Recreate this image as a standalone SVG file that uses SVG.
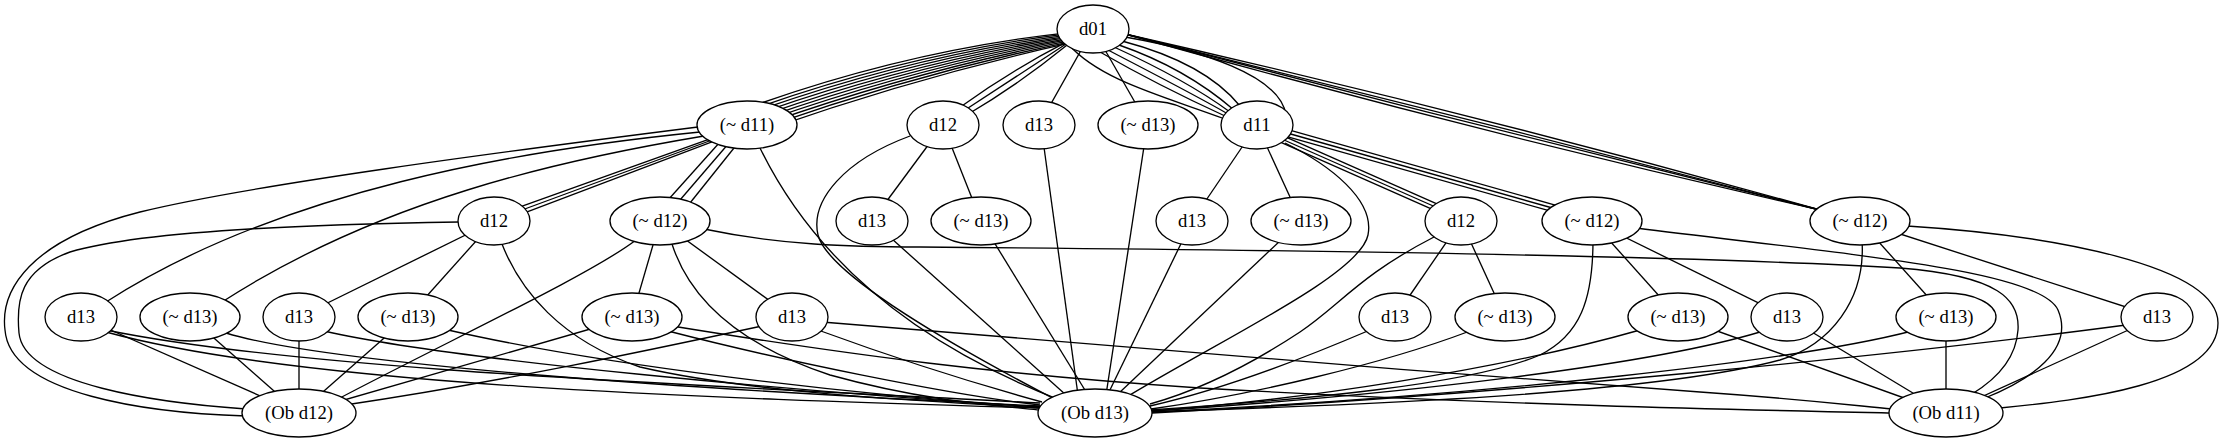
<svg xmlns="http://www.w3.org/2000/svg" width="2224" height="443" viewBox="0 0 2224 443">
<style>
.e path{fill:none;stroke:#000;stroke-width:1.33}
.n ellipse{fill:#fff;stroke:#000;stroke-width:1.33}
.n text{font-family:"Liberation Serif","Times New Roman",serif;font-size:18.67px;text-anchor:middle;fill:#000}
</style>
<rect width="2224" height="443" fill="#fff"/>
<g id="edges" class="e">
<path d="M1066.7,32.8 Q913.1,49.9 761.6,102.9"/>
<path d="M1067.0,33.9 Q913.9,52.8 762.4,105.8"/>
<path d="M1067.3,35.1 Q914.6,55.7 763.1,108.7"/>
<path d="M1067.6,36.3 Q915.4,58.6 763.9,111.6"/>
<path d="M1067.9,37.4 Q916.1,61.6 764.6,114.6"/>
<path d="M1068.1,38.6 Q916.9,64.5 765.4,117.5"/>
<path d="M1068.4,39.7 Q917.6,67.4 766.1,120.4"/>
<path d="M1068.7,40.9 Q918.4,70.3 766.9,123.3"/>
<path d="M1069.0,42.1 Q919.1,73.2 767.6,126.2"/>
<path d="M1069.3,43.2 Q919.9,76.1 768.4,129.1"/>
<path d="M1065.2,42.7 Q1009.6,71.3 959.3,107.8"/>
<path d="M1066,44 Q1014,78 962,112"/>
<path d="M1066.8,45.3 Q1018.4,84.7 964.7,116.2"/>
<path d="M1093,29 L1039,125"/>
<path d="M1093,29 L1148,125"/>
<path d="M1068,44 C1100,80 1160,95 1225,119"/>
<path d="M1100,52 C1140,75 1190,100 1225,116"/>
<path d="M1108,50 C1150,72 1195,95 1228,114"/>
<path d="M1114,47 C1160,68 1200,90 1230,112"/>
<path d="M1119,45 C1168,62 1205,85 1234,110"/>
<path d="M1122,41 C1175,55 1215,75 1240,106"/>
<path d="M1125,37 C1200,50 1280,75 1286,115"/>
<path d="M1125,34 C1358.2,86.9 1589.8,145.5 1820,210"/>
<path d="M1125,34 C1357.2,90.8 1588.8,149.4 1820,210"/>
<path d="M1125,34 C1356.2,94.6 1587.8,153.2 1820,210"/>
<path d="M1125,34 C1355.2,98.5 1586.8,157.1 1820,210"/>
<path d="M698,127 C500,152 250,185 140,212 C30,240 0,290 5,330 C10,395 150,413 246,416"/>
<path d="M459,222 C350,224 150,228 70,252 C20,270 16,300 19,333 C24,385 160,403 246,409"/>
<path d="M700,132 C520,150 280,190 106,302"/>
<path d="M704,136 C560,160 380,200 222,302"/>
<path d="M711.4,138.4 L520.8,206.7"/>
<path d="M712,140 L522,210"/>
<path d="M712.6,141.6 L523.2,213.3"/>
<path d="M720,142 L668,200"/>
<path d="M729,143 L680,200"/>
<path d="M738,143 L690,203"/>
<path d="M760,148 C800,230 880,330 1060,400"/>
<path d="M943,125 L872,221"/>
<path d="M943,125 L981,221"/>
<path d="M910,136 C845,160 810,200 818,235 C828,275 960,350 1062,403"/>
<path d="M1043,140 L1078,395"/>
<path d="M1145,140 L1106,395"/>
<path d="M1257,125 L1192,221"/>
<path d="M1257,125 L1301,221"/>
<path d="M1276.4,132.8 L1441.4,205.8"/>
<path d="M1275,136 L1440,209"/>
<path d="M1273.6,139.2 L1438.6,212.2"/>
<path d="M1280.9,127.6 L1556.9,205.6"/>
<path d="M1280,131 L1556,209"/>
<path d="M1279.1,134.4 L1555.1,212.4"/>
<path d="M1285,143 C1330,165 1375,200 1368,235 C1360,275 1220,340 1125,398"/>
<path d="M494,221 L299,317"/>
<path d="M494,221 L408,317"/>
<path d="M502,244 C520,290 560,340 640,367 C760,395 950,402 1040,408"/>
<path d="M636,240 C590,275 450,340 338,399"/>
<path d="M660,221 L632,317"/>
<path d="M672,244 C690,300 740,345 830,375 C920,400 990,405 1040,410"/>
<path d="M660,221 L792,317"/>
<path d="M704,229 C780,245 850,247 920,247 C1300,250 1700,256 1900,268 C2000,276 2020,300 2018,330 C2016,360 1995,380 1972,394"/>
<path d="M872,221 L1066,395"/>
<path d="M981,221 L1088,395"/>
<path d="M1192,221 L1108,394"/>
<path d="M1301,221 L1118,394"/>
<path d="M1461,221 L1395,317"/>
<path d="M1461,221 L1505,317"/>
<path d="M1434,237 C1360,275 1340,305 1300,332 C1250,365 1200,390 1150,404"/>
<path d="M1592,221 L1678,317"/>
<path d="M1592,221 L1787,317"/>
<path d="M1593,240 C1593,300 1580,335 1540,355 C1470,385 1300,400 1150,410"/>
<path d="M1636,228 C1850,255 2040,270 2058,310 C2075,350 2030,380 1985,398"/>
<path d="M1860,221 L1946,317"/>
<path d="M1860,221 L2157,317"/>
<path d="M1862,240 C1866,300 1830,345 1780,360 C1650,395 1350,405 1152,412"/>
<path d="M1907,226 C2050,235 2218,265 2218,323 C2218,385 2080,400 2000,408"/>
<path d="M81,317 L299,413"/>
<path d="M106,330 C300,370 700,385 1040,403"/>
<path d="M106,332 C300,385 700,398 1040,408"/>
<path d="M190,317 L299,413"/>
<path d="M226,333 C330,365 700,390 1040,406"/>
<path d="M299,317 L299,413"/>
<path d="M324,331 C450,360 800,392 1040,407"/>
<path d="M408,317 L299,413"/>
<path d="M448,330 C600,365 850,395 1040,407"/>
<path d="M632,317 L299,413"/>
<path d="M668,331 C780,360 950,395 1040,405"/>
<path d="M672,326 C850,355 1000,375 1200,388 C1500,405 1750,410 1892,413"/>
<path d="M762,326 C650,350 500,382 345,405"/>
<path d="M818,330 C900,360 980,385 1042,402"/>
<path d="M822,322 C1000,338 1400,370 1700,392 C1800,399 1850,405 1892,409"/>
<path d="M1370,330 C1300,360 1220,390 1150,406"/>
<path d="M1470,331 C1380,365 1250,395 1151,409"/>
<path d="M1640,330 C1500,370 1300,400 1152,411"/>
<path d="M1678,317 L1946,413"/>
<path d="M1760,332 C1650,365 1400,395 1152,411"/>
<path d="M1787,317 L1946,413"/>
<path d="M1912,331 C1800,360 1500,395 1152,412"/>
<path d="M1946,317 L1946,413"/>
<path d="M2126,325 C1900,355 1500,395 1152,413"/>
<path d="M2157,317 L1946,413"/>
</g>
<g id="n_d01" class="n"><ellipse cx="1093" cy="29" rx="36" ry="24"/><text x="1093" y="35">d01</text></g>
<g id="n_nd11" class="n"><ellipse cx="747" cy="125" rx="50" ry="24"/><text x="747" y="131">(~ d11)</text></g>
<g id="n_d12a" class="n"><ellipse cx="943" cy="125" rx="36" ry="24"/><text x="943" y="131">d12</text></g>
<g id="n_d13a" class="n"><ellipse cx="1039" cy="125" rx="36" ry="24"/><text x="1039" y="131">d13</text></g>
<g id="n_nd13a" class="n"><ellipse cx="1148" cy="125" rx="50" ry="24"/><text x="1148" y="131">(~ d13)</text></g>
<g id="n_d11" class="n"><ellipse cx="1257" cy="125" rx="36" ry="24"/><text x="1257" y="131">d11</text></g>
<g id="n_d12b" class="n"><ellipse cx="494" cy="221" rx="36" ry="24"/><text x="494" y="227">d12</text></g>
<g id="n_nd12b" class="n"><ellipse cx="660" cy="221" rx="50" ry="24"/><text x="660" y="227">(~ d12)</text></g>
<g id="n_d13b" class="n"><ellipse cx="872" cy="221" rx="36" ry="24"/><text x="872" y="227">d13</text></g>
<g id="n_nd13b" class="n"><ellipse cx="981" cy="221" rx="50" ry="24"/><text x="981" y="227">(~ d13)</text></g>
<g id="n_d13c" class="n"><ellipse cx="1192" cy="221" rx="36" ry="24"/><text x="1192" y="227">d13</text></g>
<g id="n_nd13c" class="n"><ellipse cx="1301" cy="221" rx="50" ry="24"/><text x="1301" y="227">(~ d13)</text></g>
<g id="n_d12c" class="n"><ellipse cx="1461" cy="221" rx="36" ry="24"/><text x="1461" y="227">d12</text></g>
<g id="n_nd12c" class="n"><ellipse cx="1592" cy="221" rx="50" ry="24"/><text x="1592" y="227">(~ d12)</text></g>
<g id="n_nd12d" class="n"><ellipse cx="1860" cy="221" rx="50" ry="24"/><text x="1860" y="227">(~ d12)</text></g>
<g id="n_d13d" class="n"><ellipse cx="81" cy="317" rx="36" ry="24"/><text x="81" y="323">d13</text></g>
<g id="n_nd13d" class="n"><ellipse cx="190" cy="317" rx="50" ry="24"/><text x="190" y="323">(~ d13)</text></g>
<g id="n_d13e" class="n"><ellipse cx="299" cy="317" rx="36" ry="24"/><text x="299" y="323">d13</text></g>
<g id="n_nd13e" class="n"><ellipse cx="408" cy="317" rx="50" ry="24"/><text x="408" y="323">(~ d13)</text></g>
<g id="n_nd13f" class="n"><ellipse cx="632" cy="317" rx="50" ry="24"/><text x="632" y="323">(~ d13)</text></g>
<g id="n_d13f" class="n"><ellipse cx="792" cy="317" rx="36" ry="24"/><text x="792" y="323">d13</text></g>
<g id="n_d13g" class="n"><ellipse cx="1395" cy="317" rx="36" ry="24"/><text x="1395" y="323">d13</text></g>
<g id="n_nd13g" class="n"><ellipse cx="1505" cy="317" rx="50" ry="24"/><text x="1505" y="323">(~ d13)</text></g>
<g id="n_nd13h" class="n"><ellipse cx="1678" cy="317" rx="50" ry="24"/><text x="1678" y="323">(~ d13)</text></g>
<g id="n_d13h" class="n"><ellipse cx="1787" cy="317" rx="36" ry="24"/><text x="1787" y="323">d13</text></g>
<g id="n_nd13i" class="n"><ellipse cx="1946" cy="317" rx="50" ry="24"/><text x="1946" y="323">(~ d13)</text></g>
<g id="n_d13i" class="n"><ellipse cx="2157" cy="317" rx="36" ry="24"/><text x="2157" y="323">d13</text></g>
<g id="n_ob12" class="n"><ellipse cx="299" cy="413" rx="57" ry="24"/><text x="299" y="419">(Ob d12)</text></g>
<g id="n_ob13" class="n"><ellipse cx="1095" cy="413" rx="57" ry="24"/><text x="1095" y="419">(Ob d13)</text></g>
<g id="n_ob11" class="n"><ellipse cx="1946" cy="413" rx="57" ry="24"/><text x="1946" y="419">(Ob d11)</text></g>
</svg>
